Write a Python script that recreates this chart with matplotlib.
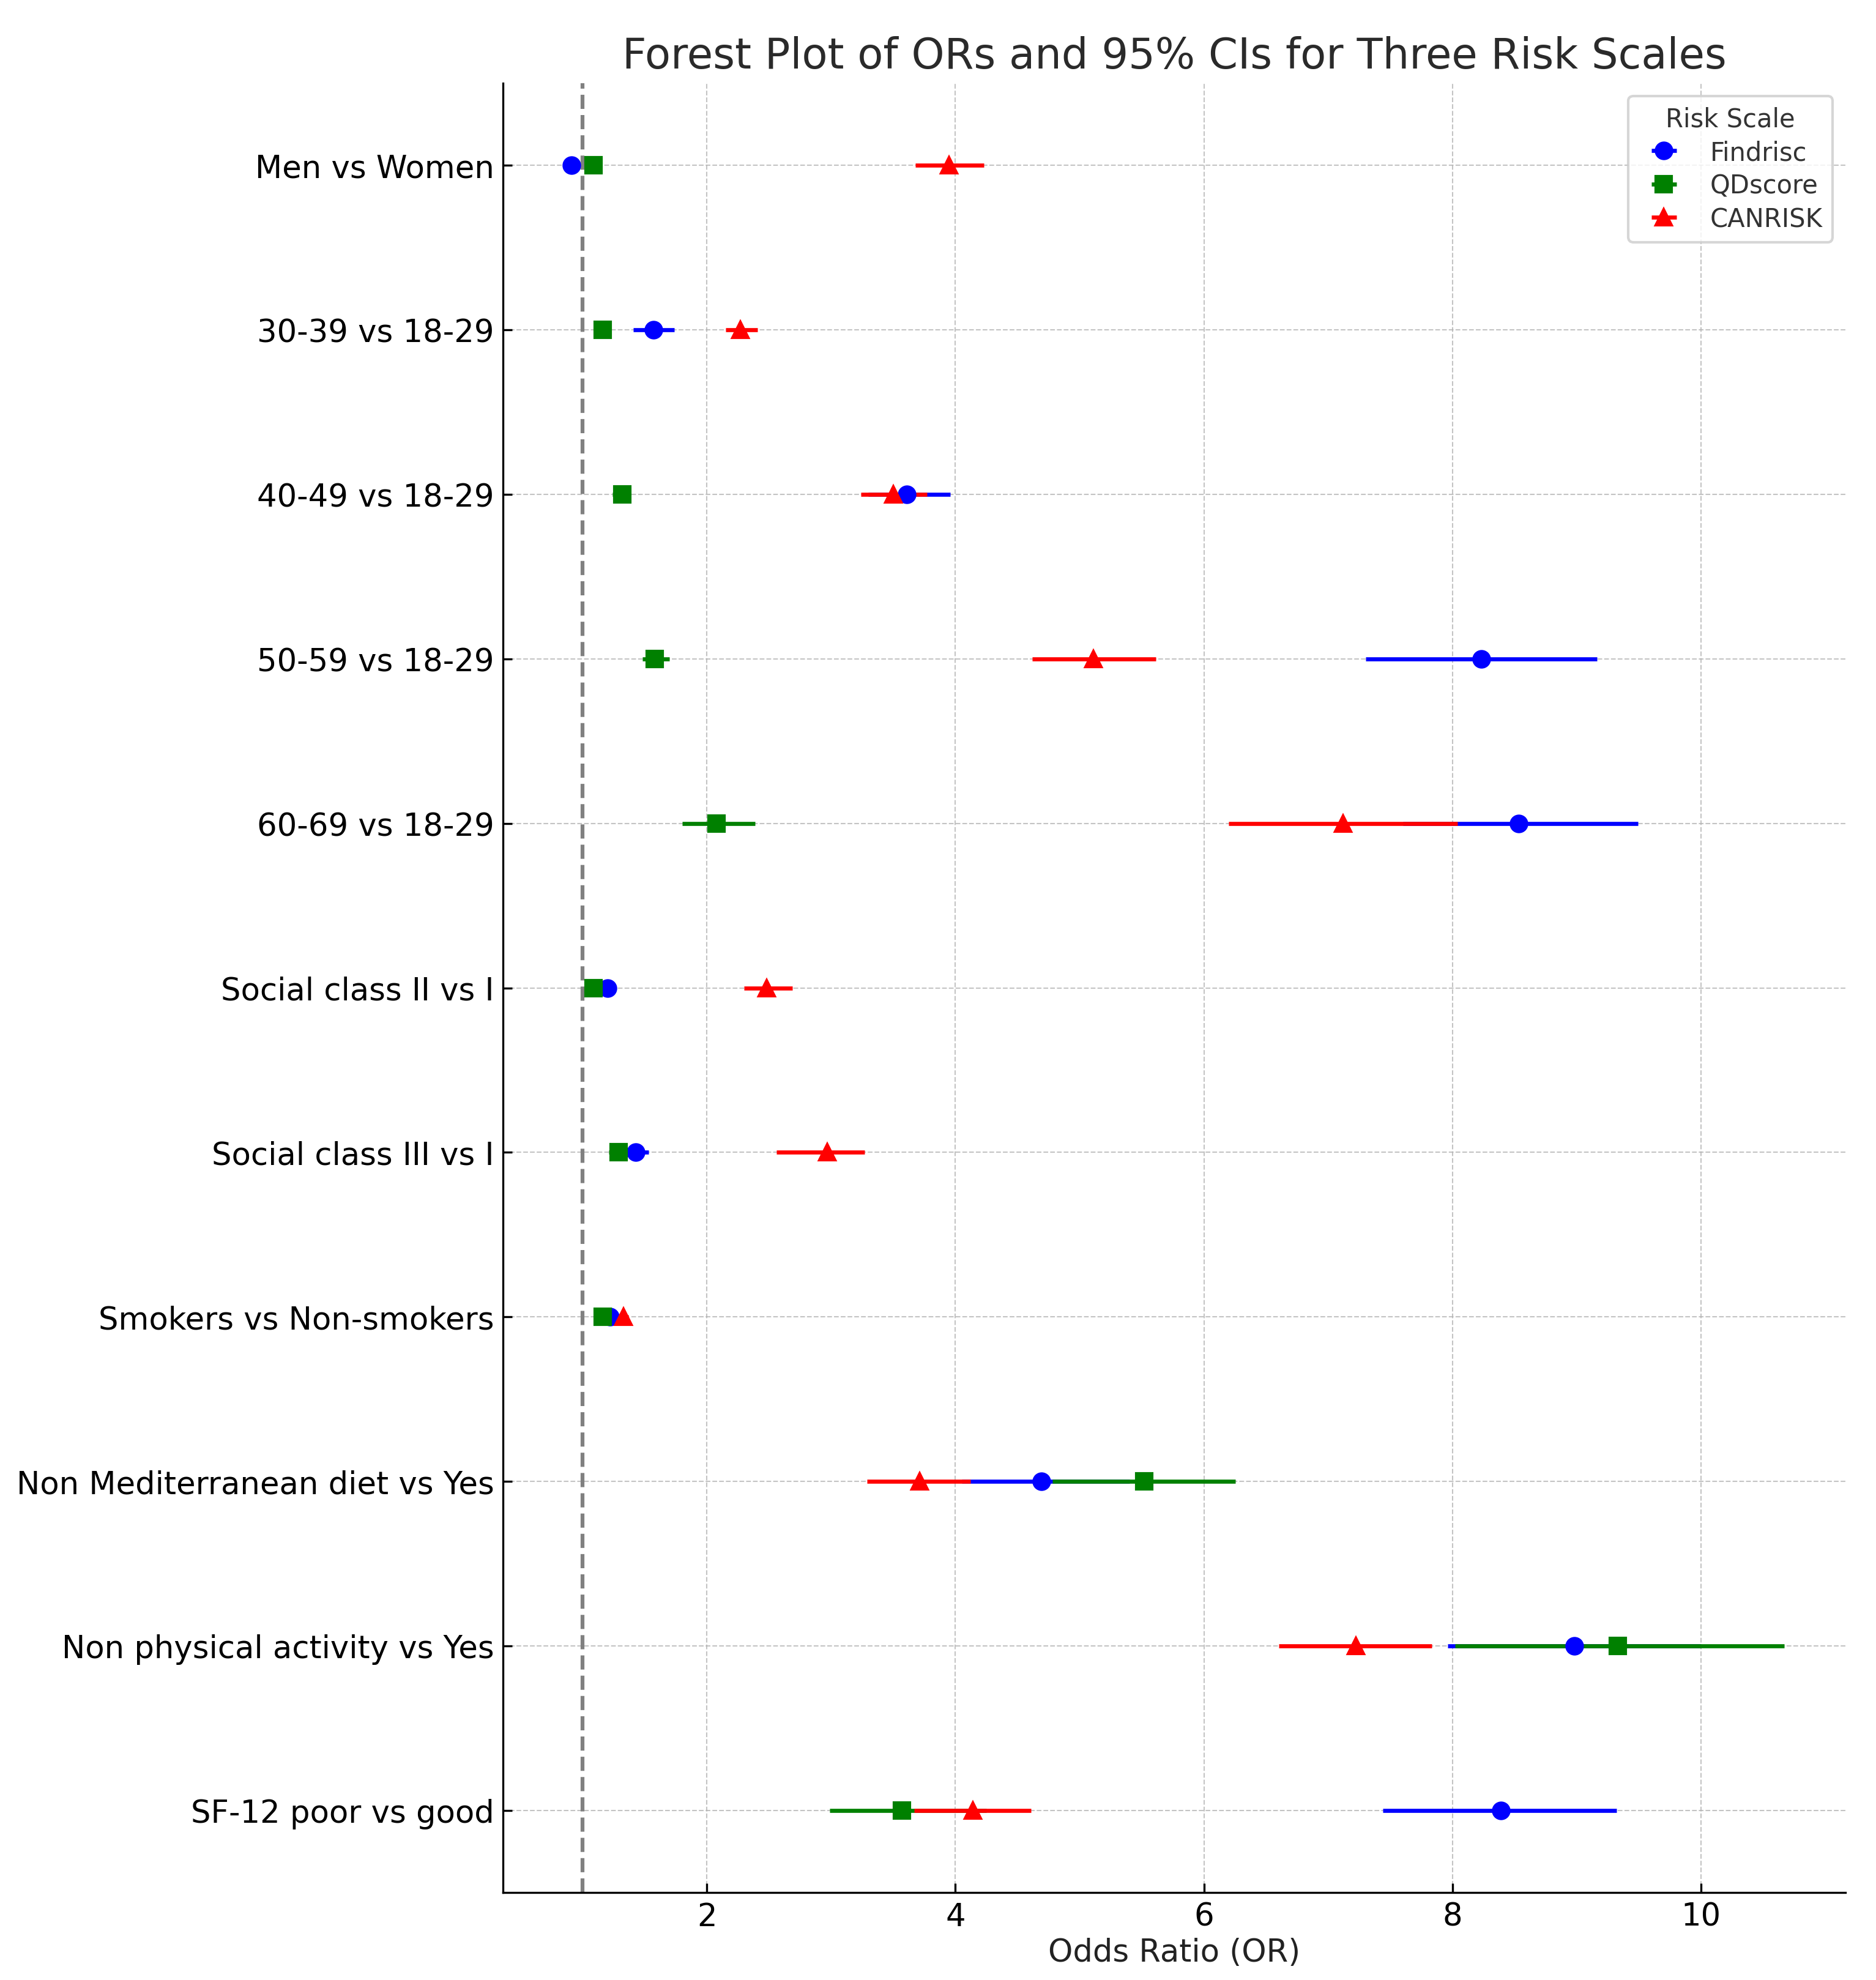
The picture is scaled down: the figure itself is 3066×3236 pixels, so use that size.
import matplotlib
matplotlib.use("Agg")
import matplotlib.pyplot as plt
import numpy as np

# comparisons, top to bottom
comparisons = [
    "Men vs Women",
    "30-39 vs 18-29",
    "40-49 vs 18-29",
    "50-59 vs 18-29",
    "60-69 vs 18-29",
    "Social class II vs I",
    "Social class III vs I",
    "Smokers vs Non-smokers",
    "Non Mediterranean diet vs Yes",
    "Non physical activity vs Yes",
    "SF-12 poor vs good",
]

# odds ratios and 95% CI bounds per risk scale
findrisc_or = [0.91, 1.57, 3.61, 8.23, 8.53, 1.20, 1.43, 1.22, 4.69, 8.98, 8.39]
findrisc_lo = [0.85, 1.41, 3.30, 7.30, 7.60, 1.15, 1.33, 1.18, 4.05, 7.96, 7.44]
findrisc_hi = [0.96, 1.74, 3.96, 9.16, 9.49, 1.26, 1.53, 1.26, 5.40, 10.00, 9.32]

qdscore_or = [1.09, 1.16, 1.32, 1.58, 2.08, 1.09, 1.29, 1.16, 5.52, 9.33, 3.57]
qdscore_lo = [1.04, 1.10, 1.24, 1.48, 1.80, 1.05, 1.21, 1.12, 4.78, 8.02, 2.99]
qdscore_hi = [1.13, 1.21, 1.39, 1.70, 2.39, 1.14, 1.36, 1.20, 6.25, 10.67, 4.25]

canrisk_or = [3.95, 2.27, 3.50, 5.11, 7.12, 2.48, 2.97, 1.33, 3.71, 7.22, 4.14]
canrisk_lo = [3.68, 2.15, 3.24, 4.62, 6.20, 2.30, 2.56, 1.29, 3.29, 6.60, 3.67]
canrisk_hi = [4.23, 2.41, 3.77, 5.61, 8.04, 2.69, 3.27, 1.37, 4.12, 7.83, 4.61]

scales = [
    ("Findrisc", findrisc_or, findrisc_lo, findrisc_hi, "o", "blue"),
    ("QDscore", qdscore_or, qdscore_lo, qdscore_hi, "s", "green"),
    ("CANRISK", canrisk_or, canrisk_lo, canrisk_hi, "^", "red"),
]

fig = plt.figure(figsize=(3066 / 300, 3237 / 300), dpi=300)
ax = fig.add_axes([822 / 3066, 1 - 3094 / 3237, (3016 - 822) / 3066, (3094 - 137) / 3237])

y = np.arange(len(comparisons))
for name, ors, lo, hi, marker, color in scales:
    ors = np.array(ors)
    xerr = [ors - np.array(lo), np.array(hi) - ors]
    ax.errorbar(ors, y, xerr=xerr, fmt=marker, color=color, ecolor=color,
                capsize=0, markersize=6.3, elinewidth=1.6, label=name)

ax.axvline(1, color="gray", linestyle="--", linewidth=1.5)

ax.set_yticks(y)
ax.set_yticklabels(comparisons, fontsize=12.3)
ax.set_ylim(-0.5, len(comparisons) - 0.5)
ax.invert_yaxis()
ax.set_xlim(0.36, 11.16)
ax.set_xticks([2, 4, 6, 8, 10])
ax.tick_params(axis="x", labelsize=12.3)
ax.tick_params(direction="in")

ax.grid(True, linestyle="--", linewidth=0.5, color="#b0b0b0", alpha=0.75)
ax.set_axisbelow(True)
ax.spines["top"].set_visible(False)
ax.spines["right"].set_visible(False)

ax.set_xlabel("Odds Ratio (OR)", fontsize=12.3, color="#222222", labelpad=2)
ax.set_title("Forest Plot of ORs and 95% CIs for Three Risk Scales", fontsize=16.5, color="#2a2a2a")

leg = ax.legend(title="Risk Scale", loc="upper right", fontsize=10, title_fontsize=10,
                labelspacing=0.3)
for t in leg.get_texts():
    t.set_color("#333333")
leg.get_title().set_color("#333333")

fig.savefig("out.png", dpi=300)
